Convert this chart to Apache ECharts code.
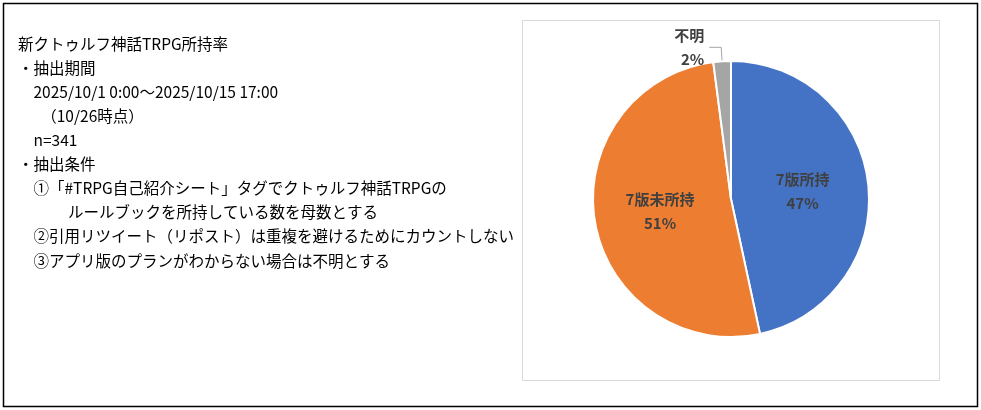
<!DOCTYPE html>
<html><head><meta charset="utf-8">
<script src="https://cdn.jsdelivr.net/npm/echarts@6/dist/echarts.min.js"></script>
<style>html,body{margin:0;padding:0;background:#fff}#c{width:981px;height:410px}</style>
</head><body><div id="c"></div>
<script>
const categories = ['7版所持', '7版未所持', '不明'];
const counts = [159, 175, 7];
const colors = ['#4472C4', '#ED7D31', '#A5A5A5'];
const noteLines = [
  '新クトゥルフ神話TRPG所持率',
  '・抽出期間',
  '  2025/10/1 0:00～2025/10/15 17:00',
  '    （10/26時点）',
  '  n=341',
  '・抽出条件',
  '  ①「#TRPG自己紹介シート」タグでクトゥルフ神話TRPGの',
  '       ルールブックを所持している数を母数とする',
  '  ②引用リツイート（リポスト）は重複を避けるためにカウントしない',
  '  ③アプリ版のプランがわからない場合は不明とする'
];
const font = '"Noto Sans CJK JP", sans-serif';
const chart = echarts.init(document.getElementById('c'));
const graphic = [
  {type:'rect', shape:{x:3.5,y:3.5,width:974,height:403}, style:{fill:'none', stroke:'#000', lineWidth:1.5}, silent:true},
  {type:'rect', shape:{x:522.5,y:20.5,width:417,height:360}, style:{fill:'none', stroke:'#D9D9D9', lineWidth:1}, silent:true}
];
noteLines.forEach((t,i)=>graphic.push({type:'text', left:18, top:36+i*24.1,
  style:{text:t.replace(/^ +/, m=>'\u3000'.repeat(Math.floor(m.length/2))+(m.length%2?' ':'')), fill:'#000', font:'15.5px '+font}}));
chart.setOption({
  animation:false,
  graphic,
  series:[{
    type:'pie', center:[731,199], radius:138, startAngle:90, clockwise:true,
    itemStyle:{borderColor:'#fff', borderWidth:2},
    label:{color:'#404040', fontFamily:font, fontSize:15, fontWeight:'bold', lineHeight:24,
      formatter:p=>p.name+'\n'+Math.round(p.percent)+'%'},
    labelLine:{lineStyle:{color:'#A6A6A6'}, length:14, length2:12},
    data: categories.map((n,i)=>({name:n, value:counts[i], itemStyle:{color:colors[i]},
      label: i<2 ? {position:'inside'} : {position:'outside'}, labelLine: {show: i===2}}))
  }]
});
</script></body></html>
